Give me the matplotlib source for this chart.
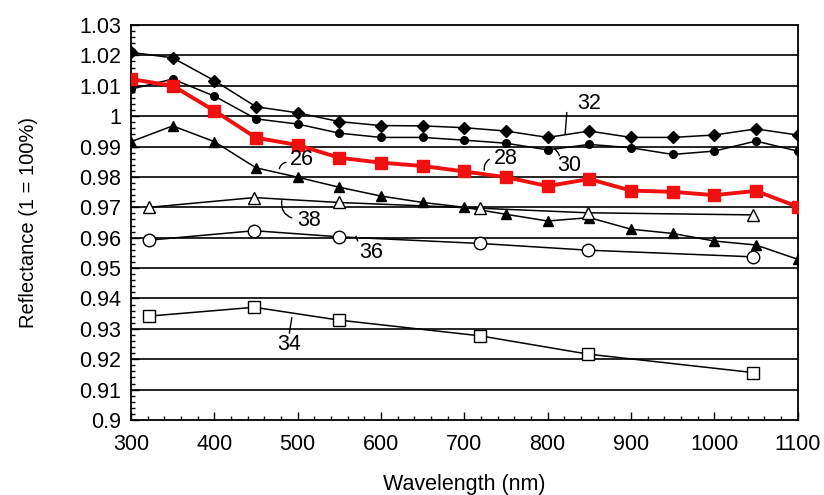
import numpy as np
import matplotlib.pyplot as plt
from matplotlib.ticker import MultipleLocator

plt.rcParams['font.family'] = ['Liberation Sans', 'DejaVu Sans']

# full-spectrum samples, every 50 nm
wl = [300, 350, 400, 450, 500, 550, 600, 650, 700, 750, 800, 850, 900, 950, 1000, 1050, 1100]
r32 = [1.0210, 1.0192, 1.0117, 1.0031, 1.0011, 0.9982, 0.9969, 0.9968, 0.9962,
       0.9951, 0.9930, 0.9951, 0.9930, 0.9930, 0.9938, 0.9958, 0.9938]
r30 = [1.0089, 1.0122, 1.0066, 0.9991, 0.9974, 0.9944, 0.9930, 0.9930, 0.9921,
       0.9911, 0.9889, 0.9907, 0.9896, 0.9874, 0.9885, 0.9918, 0.9885]
r28 = [1.0122, 1.0100, 1.0018, 0.9929, 0.9905, 0.9863, 0.9847, 0.9836, 0.9818,
       0.9799, 0.9770, 0.9793, 0.9755, 0.9751, 0.9740, 0.9754, 0.9702]
r26 = [0.9916, 0.9968, 0.9916, 0.9830, 0.9799, 0.9766, 0.9737, 0.9716, 0.9700,
       0.9677, 0.9655, 0.9666, 0.9628, 0.9614, 0.9589, 0.9576, 0.9529]

# sparse samples
wl2 = [322, 448, 549, 719, 848, 1047]
r38 = [0.9700, 0.9732, 0.9716, 0.9697, 0.9682, 0.9675]
r36 = [0.9592, 0.9623, 0.9603, 0.9581, 0.9559, 0.9537]
r34 = [0.9342, 0.9371, 0.9329, 0.9277, 0.9217, 0.9156]

fig = plt.figure(figsize=(8.24, 4.95), dpi=100)
ax = fig.add_axes([0.159, 0.1515, 0.809, 0.798])

for yv in np.arange(0.91, 1.025, 0.01):
    ax.axhline(yv, color='black', lw=1.2, zorder=1)

ax.plot(wl, r32, color='black', lw=1.1, marker='D', ms=6, zorder=3)
ax.plot(wl, r30, color='black', lw=1.1, marker='o', ms=5.5, zorder=3)
ax.plot(wl, r26, color='black', lw=1.1, marker='^', ms=7, zorder=3)
ax.plot(wl, r28, color='#f01010', lw=2.8, marker='s', ms=8, zorder=4)
ax.plot(wl2, r38, color='black', lw=1.1, marker='^', ms=9, mfc='white', mew=1.0, zorder=3)
ax.plot(wl2, r36, color='black', lw=1.1, marker='o', ms=9, mfc='white', mew=1.0, zorder=3)
ax.plot(wl2, r34, color='black', lw=1.1, marker='s', ms=8, mfc='white', mew=1.0, zorder=3)

# reference numerals with short leader lines
callouts = [
    ('32', (850, 1.0042), (823, 1.0012), (821, 0.9940), 0.0),
    ('30', (826, 0.9837), (814, 0.9870), (808, 0.9892), 0.2),
    ('28', (750, 0.9862), (730, 0.9858), (724, 0.9822), 0.3),
    ('26', (505, 0.9858), (486, 0.9848), (478, 0.9827), 0.3),
    ('38', (514, 0.9657), (493, 0.9665), (481, 0.9722), -0.4),
    ('36', (588, 0.9550), (572, 0.9589), (570, 0.9605), 0.0),
    ('34', (490, 0.9250), (490, 0.9286), (493, 0.9337), 0.0),
]
for txt, tpos, p0, p1, rad in callouts:
    ax.text(tpos[0], tpos[1], txt, fontsize=15.5, ha='center', va='center', zorder=5)
    ax.annotate('', xy=p1, xytext=p0,
                arrowprops=dict(arrowstyle='-', color='black', lw=1.0,
                                shrinkA=0, shrinkB=0,
                                connectionstyle='arc3,rad=%s' % rad))

ax.set_xlim(300, 1100)
ax.set_ylim(0.9, 1.03)
ax.xaxis.set_major_locator(MultipleLocator(100))
ax.xaxis.set_minor_locator(MultipleLocator(20))
ax.yaxis.set_minor_locator(MultipleLocator(0.002))
ax.set_yticks(np.arange(0.9, 1.031, 0.01))
ax.set_yticklabels(['0.9', '0.91', '0.92', '0.93', '0.94', '0.95', '0.96', '0.97',
                    '0.98', '0.99', '1', '1.01', '1.02', '1.03'])
ax.tick_params(which='both', direction='in', labelsize=15.5, width=1.0)
ax.tick_params(which='major', length=6)
ax.tick_params(which='minor', length=3)
ax.tick_params(axis='y', pad=7)
ax.tick_params(axis='x', pad=10)
for sp in ax.spines.values():
    sp.set_linewidth(1.3)

ax.set_xlabel('Wavelength (nm)', fontsize=15.5, labelpad=14)
ax.set_ylabel('Reflectance (1 = 100%)', fontsize=14.5, labelpad=30)

fig.savefig('out.png', dpi=100)
